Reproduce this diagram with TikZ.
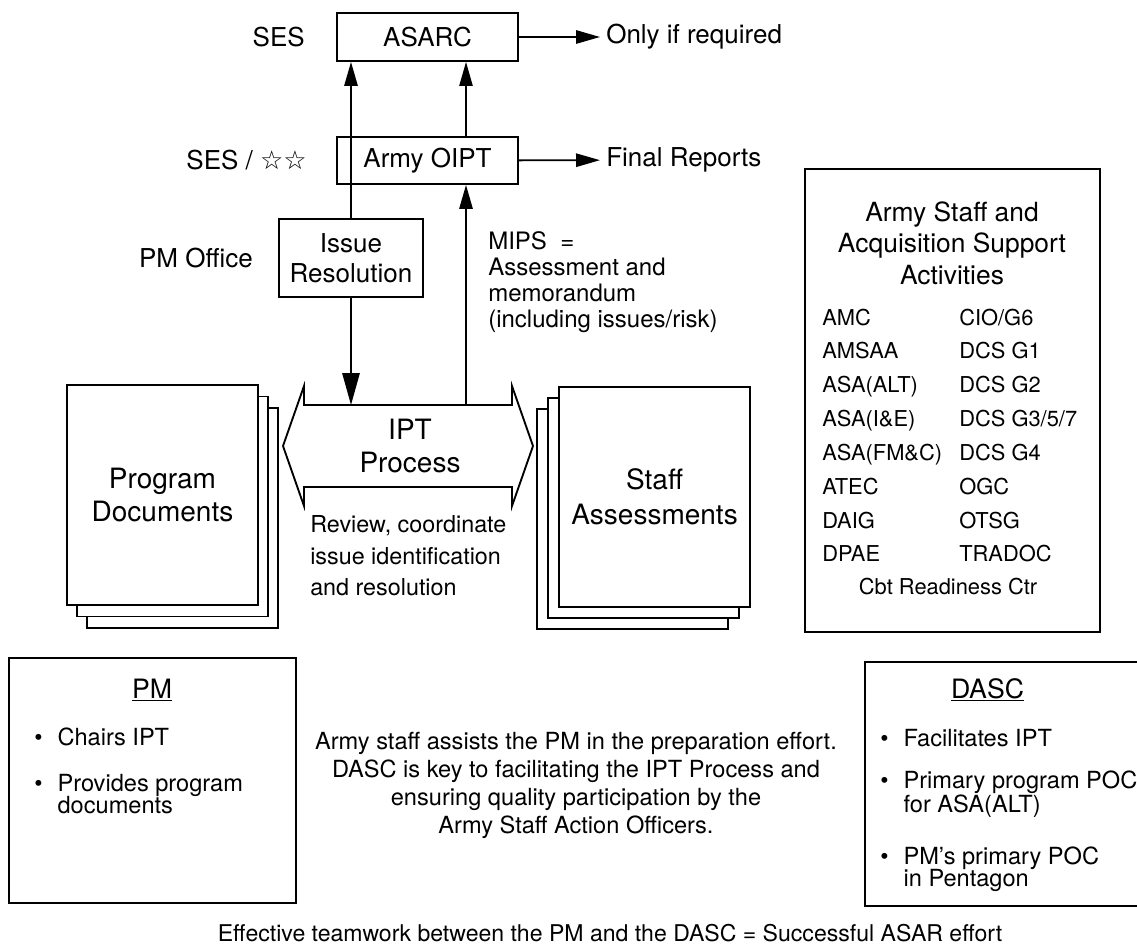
\documentclass[tikz,border=0pt]{standalone}
\usepackage{fontspec}
\setmainfont{TeX Gyre Heros}
\newfontfamily\symfont{DejaVu Sans}
\usepackage{tikz}
\usetikzlibrary{arrows.meta, positioning, shadows}

\newcommand{\fs}[2]{\fontsize{#1}{#2}\selectfont}
\newcommand{\punkt}{\makebox[17.5pt][l]{\textbullet}}

\begin{document}
\begin{tikzpicture}[x=0.75pt, y=-0.75pt,
  every node/.style={font=\fs{19.5pt}{22.5pt}, inner sep=0pt},
  kasten/.style={draw, line width=1.4pt, align=center},
  blatt/.style={draw, fill=white, line width=1.4pt, align=center,
    minimum width=143.25pt, minimum height=165pt},
  pfeil/.style={line width=1.4pt, -{Triangle[length=18pt, width=10pt]}},
  liste/.style={font=\fs{16.4pt}{19pt}, anchor=base west},
  punkte/.style={font=\fs{17.7pt}{16.8pt}, align=left, anchor=west}]
\useasboundingbox (0,0) rectangle (1137,949);
\clip (0,0) rectangle (1137,949);

% Gremien oben
\node[kasten, minimum width=135.75pt, minimum height=36pt] (asarc) at (427.5,37) {ASARC};
\node[kasten, minimum width=135.75pt, minimum height=35.25pt] (oipt) at (427.5,160.5) {Army OIPT};
\node[kasten, minimum width=108pt, minimum height=58.5pt] (issue) at (351,258) {Issue\\Resolution};

% Beschriftung links
\node[anchor=east] (ses) at (305,37) {SES};
\node[anchor=east] (sesstern) at (307,160) {SES / {\symfont ☆☆}};
\node[anchor=east] (pmoffice) at (253,258) {PM Office};

% Ergebnisse rechts
\node[anchor=west, inner sep=4.5pt] (onlyif) at (600,37) {Only if required};
\node[anchor=west, inner sep=4.5pt] (finalrep) at (600,160) {Final Reports};
\draw[pfeil] (asarc) -- (onlyif);
\draw[pfeil] (oipt) -- (finalrep);

% Doppelpfeil IPT
\draw[line width=1.4pt, fill=white] (283,446) -- (304,386) -- (304,405) -- (512,405)
  -- (512,386) -- (533,446) -- (512,506) -- (512,487) -- (304,487) -- (304,506) -- cycle;
\node[font=\fs{21pt}{24.75pt}, align=center] (ipt) at (410,446) {IPT\\Process};
\coordinate (mipsfuss) at (466,405);
\node[font=\fs{17.5pt}{23.6pt}, align=left, anchor=west] (review) at (310,556)
  {Review, coordinate\\issue identification\\and resolution};

% Verbindungen
\draw[pfeil] (issue.north) -- (issue.north |- asarc.south);
\draw[line width=1.4pt, -{Triangle[length=24pt, width=13pt]}] (issue.south) -- (issue.south |- mipsfuss);
\draw[pfeil] (mipsfuss) -- (mipsfuss |- oipt.south);
\draw[line width=1pt, -{Triangle[length=18pt, width=10pt]}] (mipsfuss |- oipt.north) -- (mipsfuss |- asarc.south);
\node[font=\fs{18pt}{19.5pt}, align=left, anchor=west] (mips) at (488,282)
  {MIPS\ \ =\\Assessment and\\memorandum\\(including issues/risk)};

% Dokumentenstapel
\node[blatt, double copy shadow={shadow xshift=7.5pt, shadow yshift=-8.6pt},
  font=\fs{21pt}{24.75pt}] (progdok) at (162.5,495) {Program\\Documents};
\node[blatt, double copy shadow={shadow xshift=-8.25pt, shadow yshift=-8.25pt},
  font=\fs{21pt}{26pt}] (staffdok) at (654.5,497) {Staff\\Assessments};

% Stab und Unterstützung
\node[kasten, minimum width=221.25pt, minimum height=347.25pt] (aktiv) at (952.5,400.5) {};
\node[font=\fs{19.8pt}{23.6pt}, align=center] (aktivtitel) at (952,243)
  {Army Staff and\\Acquisition Support\\Activities};
\foreach \i/\a/\b in {0/AMC/{CIO/G6}, 1/AMSAA/{DCS G1}, 2/{ASA(ALT)}/{DCS G2},
  3/{ASA(I\&E)}/{DCS G3/5/7}, 4/{ASA(FM\&C)}/{DCS G4}, 5/ATEC/OGC,
  6/DAIG/OTSG, 7/DPAE/TRADOC}{
  \node[liste] (links\i) at (822,325+33.85*\i) {\a};
  \node[liste] (rechts\i) at (959,325+33.85*\i) {\b};
}
\node[font=\fs{16.4pt}{19pt}] (cbt) at (948,587) {Cbt Readiness Ctr};

% PM
\node[kasten, minimum width=215.25pt, minimum height=183.75pt] (pmbox) at (152.5,780.5) {};
\node[font=\fs{20pt}{24pt}] (pmtitel) at (152,690) {\underline{PM}};
\node[punkte] (pm1) at (34,737) {\punkt Chairs IPT};
\node[punkte] (pm2) at (34,794) {\punkt Provides program\\\hspace*{17.5pt}documents};

% DASC
\node[kasten, minimum width=225pt, minimum height=183pt] (dascbox) at (1015,784) {};
\node[font=\fs{20pt}{24pt}] (dasctitel) at (987.5,690) {\underline{DASC}};
\node[punkte] (dasc1) at (880,738) {\punkt Facilitates IPT};
\node[punkte] (dasc2) at (880,794) {\punkt Primary program POC\\\hspace*{17.5pt}for ASA(ALT)};
\node[punkte] (dasc3) at (880,869) {\punkt PM’s primary POC\\\hspace*{17.5pt}in Pentagon};

% Texte unten
\node[font=\fs{17.7pt}{21pt}, align=center] (mitte) at (576,785)
  {Army staff assists the PM in the preparation effort.\\DASC is key to facilitating the IPT Process and\\ensuring quality participation by the\\Army Staff Action Officers.};
\node[font=\fs{17.3pt}{20pt}] (fazit) at (610,933)
  {Effective teamwork between the PM and the DASC = Successful ASAR effort};
\end{tikzpicture}
\end{document}
